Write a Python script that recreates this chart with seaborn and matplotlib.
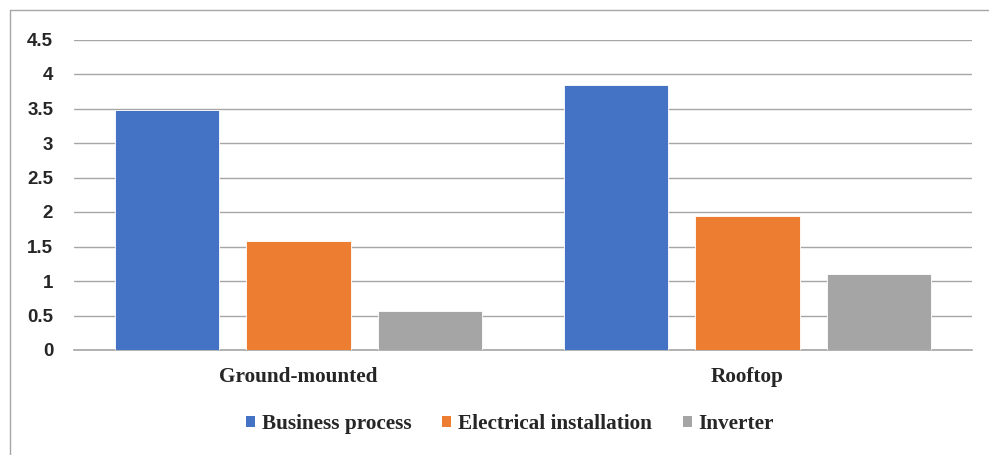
import matplotlib
matplotlib.use("Agg")
import matplotlib.pyplot as plt
from matplotlib.lines import Line2D
from matplotlib.patches import Patch
import seaborn as sns
import pandas as pd

# Chart data
categories = ["Ground-mounted", "Rooftop"]
series_names = ["Business process", "Electrical installation", "Inverter"]
business_process = [3.48, 3.84]
electrical_installation = [1.58, 1.94]
inverter = [0.56, 1.10]
y_ticks = [0, 0.5, 1, 1.5, 2, 2.5, 3, 3.5, 4, 4.5]
y_tick_labels = ["0", "0.5", "1", "1.5", "2", "2.5", "3", "3.5", "4", "4.5"]

colors = ["#4472C4", "#ED7D31", "#A5A5A5"]

rows = []
for name, vals in zip(series_names,
                      [business_process, electrical_installation, inverter]):
    for cat, v in zip(categories, vals):
        rows.append({"category": cat, "series": name, "value": v})
df = pd.DataFrame(rows)

sns.set_style("white")
fig = plt.figure(figsize=(9.89, 4.55), dpi=100)
ax = fig.add_axes([74 / 989, 1 - 350 / 455, (972 - 74) / 989, (350 - 39.5) / 455])

sns.barplot(data=df, x="category", y="value", hue="series",
            palette=colors, order=categories, hue_order=series_names,
            width=0.88, gap=0.21, saturation=1, edgecolor="white", linewidth=0.6,
            legend=False, ax=ax, zorder=3)

ax.set_ylim(0, 4.5)
ax.set_xlim(-0.5, 1.5)
ax.set_yticks(y_ticks)
ax.set_yticklabels(y_tick_labels)
ax.yaxis.grid(True, color="#a6a6a6", linewidth=1.0, zorder=0)
ax.set_axisbelow(True)
for s in ["top", "right", "left"]:
    ax.spines[s].set_visible(False)
ax.spines["bottom"].set_color("#a6a6a6")
ax.spines["bottom"].set_linewidth(1.2)
ax.set_xlabel("")
ax.set_ylabel("")

narrow = ["Liberation Sans Narrow", "Liberation Sans", "DejaVu Sans"]
for lbl in ax.get_yticklabels():
    lbl.set_fontfamily(narrow)
    lbl.set_fontweight("bold")
    lbl.set_fontsize(13.5)
ax.tick_params(axis="y", length=0, pad=15)
ax.tick_params(axis="x", length=0, pad=12)
for lbl in ax.get_xticklabels():
    lbl.set_fontfamily(["Liberation Serif", "DejaVu Serif"])
    lbl.set_fontweight("bold")
    lbl.set_fontsize(15.3)

handles = [Patch(facecolor=c, edgecolor="none") for c in colors]
fig.legend(handles, series_names, loc="center", bbox_to_anchor=(510 / 989, 1 - 424 / 455),
           ncol=3, frameon=False, handlelength=0.42, handleheight=0.42,
           handletextpad=0.33, columnspacing=1.45,
           prop={"family": ["Liberation Serif", "DejaVu Serif"], "weight": "bold", "size": 15.3})

# Outer chart frame (top and left edges)
fig.add_artist(Line2D([10 / 989, 1.0], [1 - 10 / 455, 1 - 10 / 455],
                      transform=fig.transFigure, color="#a6a6a6", linewidth=1.0))
fig.add_artist(Line2D([10 / 989, 10 / 989], [0.0, 1 - 10 / 455],
                      transform=fig.transFigure, color="#a6a6a6", linewidth=1.0))

fig.savefig("out.png", dpi=100)
